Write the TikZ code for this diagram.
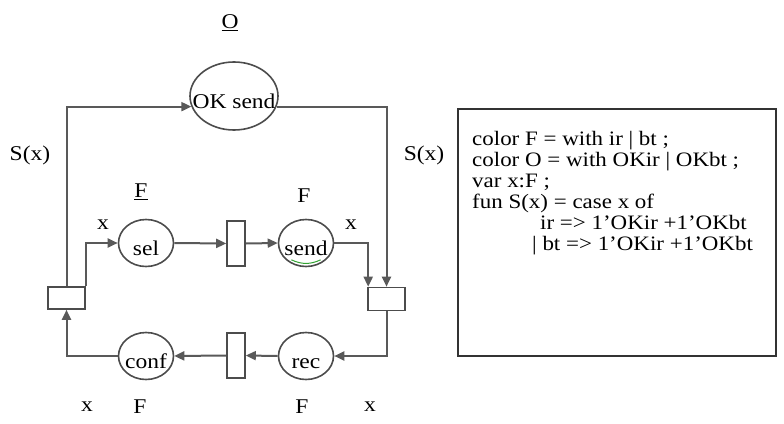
\documentclass[tikz,border=0pt]{standalone}
\usepackage{fontspec}
\setmainfont[FakeStretch=1.12]{Liberation Serif}
\usepackage{tikz}
\usetikzlibrary{arrows.meta,shapes.geometric}
\newcommand{\pname}[1]{\makebox[0pt]{\smash{\raisebox{-12pt}{#1}}}}

\begin{document}
\begin{tikzpicture}[
  x=1pt, y=1pt,
  font=\fontsize{21}{21}\selectfont,
  place/.style={draw=black!70, ellipse, line width=1.6pt, minimum width=55pt, minimum height=47pt, inner sep=0pt},
  trans/.style={draw=black!70, rectangle, line width=1.6pt, inner sep=0pt},
  arrow/.style={-{Triangle[length=10pt,width=9pt]}, line width=2pt, draw=black!65},
  spell/.style={draw=green!55!black!80, line width=1pt},
  lbl/.style={inner sep=0pt}
]
\useasboundingbox (0,0) rectangle (784,-423);
\node[place, minimum width=88pt, minimum height=68pt] (OKsend) at (234,-96) {\pname{OK send}};
\node[place] (sel) at (146,-243) {\pname{sel}};
\node[place] (send) at (306,-243) {\pname{send}};
\node[place] (rec) at (306,-356) {\pname{rec}};
\node[place] (conf) at (146,-356) {\pname{conf}};

\node[trans, minimum width=37pt, minimum height=22pt] (tl) at (66.5,-298) {};
\node[trans, minimum width=37pt, minimum height=23pt] (tr) at (386.5,-299) {};
\node[trans, minimum width=18pt, minimum height=45pt] (tm1) at (236,-243.5) {};
\node[trans, minimum width=18pt, minimum height=45pt] (tm2) at (236,-355.5) {};

\node[lbl] (lO) at (230,-23) {\underline{O}};
\node[lbl] (lSl) at (30,-155) {S(x)};
\node[lbl] (lSr) at (424,-155) {S(x)};
\node[lbl] (lFsel) at (141,-192) {\underline{F}};
\node[lbl] (lFsend) at (304,-196) {F};
\node[lbl] (lxsel) at (103,-225) {x};
\node[lbl] (lxsend) at (351,-225) {x};
\node[lbl] (lxconf) at (87,-407) {x};
\node[lbl] (lFconf) at (140,-407) {F};
\node[lbl] (lFrec) at (302,-407) {F};
\node[lbl] (lxrec) at (370,-407) {x};

\draw[arrow] (tl.north) |- (OKsend.194);
\draw[arrow] (OKsend.-14) -| (tr.north);
\draw[arrow] (tl.north east) |- (sel.west);
\draw[arrow] (send.east) -| ([xshift=1pt]tr.north west);
\draw[arrow] (tr.south) |- (rec.east);
\draw[arrow] (conf.west) -| (tl.south);
\foreach \a/\b in {sel/tm1, tm1/send} {
  \draw[arrow] (\a.east) -- (\b.west);
}
\foreach \a/\b in {rec/tm2, tm2/conf} {
  \draw[arrow] (\a.west) -- (\b.east);
}
\draw[spell] ([yshift=4pt]send.-125) to[bend right=25] ([yshift=4pt]send.-55);

\node[draw=black!80, line width=1.6pt, minimum width=318pt, minimum height=247pt, anchor=north west, inner sep=0pt] (declbox) at (457,-108) {};
\node[anchor=north west, inner sep=0pt, align=left, font=\fontsize{20.5}{21}\selectfont] (decl) at (472,-131) {%
color F = with ir | bt ;\\
color O = with OKir | OKbt ;\\
var x:F ;\\
fun S(x) = case x of\\
\hspace*{68pt}ir => 1'OKir +1'OKbt\\
\hspace*{60pt}| bt => 1'OKir +1'OKbt};
\end{tikzpicture}
\end{document}
